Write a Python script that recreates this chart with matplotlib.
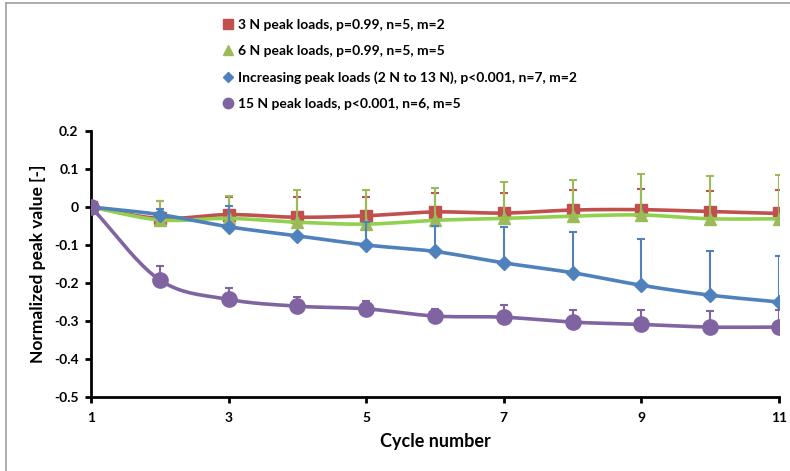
import numpy as np
import matplotlib
matplotlib.use("Agg")
import matplotlib.pyplot as plt
from matplotlib.lines import Line2D

plt.rcParams['font.family'] = ['Lato', 'DejaVu Sans']

cycles = [1, 2, 3, 4, 5, 6, 7, 8, 9, 10, 11]

labels = [
    "3 N peak loads, p=0.99, n=5, m=2",
    "6 N peak loads, p=0.99, n=5, m=5",
    "Increasing peak loads (2 N to 13 N), p<0.001, n=7, m=2",
    "15 N peak loads, p<0.001, n=6, m=5",
]

red_vals = [0, -0.030, -0.020, -0.027, -0.023, -0.013, -0.016, -0.008, -0.007, -0.012, -0.017]
red_up = [0, 0.045, 0.046, 0.053, 0.049, 0.050, 0.053, 0.052, 0.054, 0.054, 0.062]

green_vals = [0, -0.034, -0.030, -0.040, -0.045, -0.035, -0.030, -0.024, -0.021, -0.031, -0.031]
green_up = [0, 0.050, 0.060, 0.085, 0.090, 0.085, 0.096, 0.096, 0.108, 0.113, 0.116]

blue_vals = [0, -0.020, -0.052, -0.076, -0.100, -0.117, -0.147, -0.173, -0.206, -0.232, -0.250]
blue_up = [0, 0.015, 0.055, 0.0, 0.060, 0.067, 0.095, 0.106, 0.121, 0.117, 0.122]

purple_vals = [0, -0.192, -0.243, -0.261, -0.268, -0.287, -0.290, -0.303, -0.309, -0.316, -0.316]
purple_up = [0, 0.037, 0.031, 0.023, 0.020, 0.019, 0.033, 0.031, 0.037, 0.042, 0.046]

x_ticks = [1, 3, 5, 7, 9, 11]
y_ticks = [0.2, 0.1, 0, -0.1, -0.2, -0.3, -0.4, -0.5]
y_ticklabels = ["0.2", "0.1", "0", "-0.1", "-0.2", "-0.3", "-0.4", "-0.5"]

narrow = ['Liberation Sans Narrow', 'Lato', 'DejaVu Sans']


def smooth(x, y, n=20):
    x = np.asarray(x, float)
    y = np.asarray(y, float)
    px = np.concatenate([[2 * x[0] - x[1]], x, [2 * x[-1] - x[-2]]])
    py = np.concatenate([[2 * y[0] - y[1]], y, [2 * y[-1] - y[-2]]])
    xs, ys = [], []
    for i in range(1, len(px) - 2):
        t = np.linspace(0, 1, n, endpoint=False)
        for arr, out in ((px, xs), (py, ys)):
            p0, p1, p2, p3 = arr[i - 1], arr[i], arr[i + 1], arr[i + 2]
            out.extend(0.5 * ((2 * p1) + (-p0 + p2) * t + (2 * p0 - 5 * p1 + 4 * p2 - p3) * t ** 2
                              + (-p0 + 3 * p1 - 3 * p2 + p3) * t ** 3))
    xs.append(x[-1]); ys.append(y[-1])
    return np.array(xs), np.array(ys)


fig = plt.figure(figsize=(7.9, 4.71), dpi=100)
ax = fig.add_axes([91 / 790, 1 - 397 / 471, (779 - 91) / 790, (397 - 131) / 471])

series = [
    (red_vals, red_up, '#C0504D', '#C0504D', 's', 9, '#C0504D', 6.5),
    (green_vals, green_up, '#92D050', '#9BBB59', '^', 9, '#9BBB59', 7),
    (blue_vals, blue_up, '#4F81BD', '#4F81BD', 'D', 7, '#4F81BD', 5.5),
    (purple_vals, purple_up, '#8064A2', '#8064A2', 'o', 11, '#8064A2', 7.5),
]

handles = []
for i, (vals, up, lc, mc, mk, ms, ec, lms) in enumerate(series):
    z = 3 + i
    yerr = np.array([np.zeros(len(up)), up])
    ax.errorbar(cycles, vals, yerr=yerr, fmt='none', ecolor=ec, elinewidth=1.5,
                capsize=3, capthick=1.5, zorder=z)
    sx, sy = smooth(cycles, vals)
    ax.plot(sx, sy, color=lc, lw=2.6, zorder=z, solid_capstyle='round')
    ax.plot(cycles, vals, linestyle='none', marker=mk, markersize=ms, color=mc,
            markeredgecolor=mc, zorder=z)
    handles.append(Line2D([], [], linestyle='none', marker=mk, markersize=lms,
                          color=mc, markeredgecolor=mc))

ax.set_xlim(1, 11)
ax.set_ylim(-0.5, 0.2)
ax.set_xticks(x_ticks)
ax.set_xticklabels([str(v) for v in x_ticks], fontweight='bold', fontsize=10)
ax.set_yticks(y_ticks)
ax.set_yticklabels(y_ticklabels, fontweight='bold', fontsize=10)
ax.tick_params(axis='both', direction='out', length=4, width=2, colors='black', pad=7)
ax.tick_params(axis='y', pad=5)
for s in ['top', 'right']:
    ax.spines[s].set_visible(False)
for s in ['left', 'bottom']:
    ax.spines[s].set_linewidth(2)
ax.set_xlabel("Cycle number", fontweight='bold', fontsize=13, labelpad=6, family=narrow)
ax.set_ylabel("Normalized peak value [-]", fontweight='bold', fontsize=12.5, labelpad=6,
              family=narrow)

fig.legend(handles, labels, loc='upper left', bbox_to_anchor=(223 / 790, 1 - 19 / 471),
           frameon=False, prop={'weight': 'bold', 'size': 10}, handlelength=0.7,
           handletextpad=0.35, labelspacing=1.02, borderaxespad=0, borderpad=0)

# outer frame lines (top and left)
fig.add_artist(Line2D([6 / 790, 1], [1 - 3 / 471, 1 - 3 / 471], color='#A0A0A0', lw=1.2,
                      transform=fig.transFigure))
fig.add_artist(Line2D([6 / 790, 6 / 790], [0, 1 - 3 / 471], color='#A0A0A0', lw=1.2,
                      transform=fig.transFigure))

fig.savefig("out.png", dpi=100)
